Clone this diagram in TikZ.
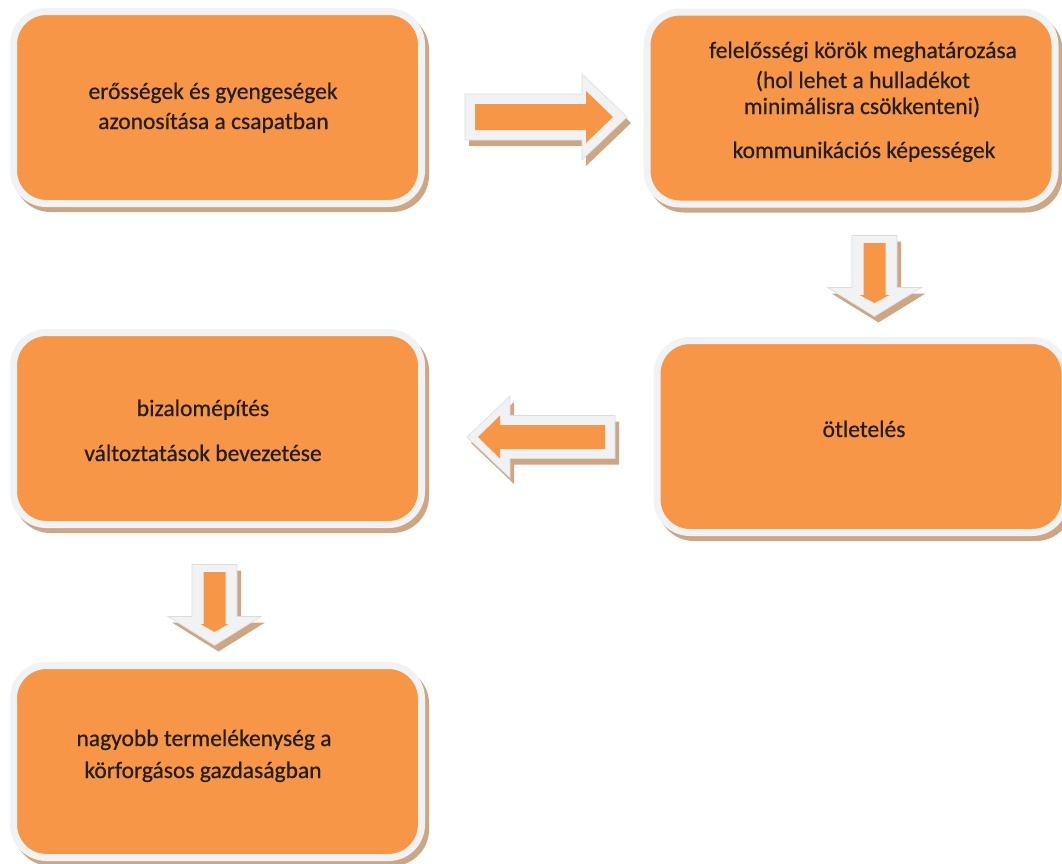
\documentclass[tikz,border=0pt]{standalone}
\usepackage{fontspec}
\setmainfont{Carlito}
\newfontfamily\boxfont{Carlito}[FakeBold=0.6]
\definecolor{boxorange}{HTML}{F79646}
\definecolor{rimgrey}{HTML}{F1F2F3}
\definecolor{rimedge}{HTML}{DADCDE}
\definecolor{shadowtan}{HTML}{CFA683}
\definecolor{txt}{HTML}{231E1A}
\tikzset{
  box/.style={rounded corners=33pt, fill=boxorange, draw=rimgrey, line width=7pt,
    minimum width=408pt, minimum height=192pt, inner sep=0pt, outer sep=0pt,
    preaction={draw=shadowtan, fill=shadowtan, line width=7pt,
      transform canvas={xshift=4pt, yshift=-5pt}}},
  lbl/.style={anchor=base, inner sep=0pt, text=txt, font=\boxfont\fontsize{23.5}{28}\selectfont},
  arrowrim/.style={fill=rimgrey, draw=rimedge, line width=0.6pt, transform shape},
  arrowshadow/.style={fill=shadowtan, transform shape},
  arrowcore/.style={fill=boxorange, transform shape},
  pics/blockarrow/.style n args={5}{code={
    \path[pic actions] (#1,-#4) -- (#2,-#4) -- (#2,-#5) -- (#3,0) -- (#2,#5) -- (#2,#4) -- (#1,#4) -- cycle;
  }},
}
\begin{document}
\begin{tikzpicture}[x=1pt, y=-1pt]
\useasboundingbox (0,0) rectangle (1062,863);
\fill[white] (0,0) rectangle (1062,863);

% boxes
\node[box] (b1) at (217.5,107.5) {};
\node[box] (b2) at (851,108) {};
\node[box] (b3) at (861,436.5) {};
\node[box] (b4) at (217.5,428.5) {};
\node[box] (b5) at (217.5,761.5) {};

% texts
\node[lbl] (t1a) at (213,99) {erősségek és gyengeségek};
\node[lbl] (t1b) at (213.5,129) {azonosítása a csapatban};
\node[lbl] (t2a) at (863,58) {felelősségi körök meghatározása};
\node[lbl] (t2b) at (863,88) {(hol lehet a hulladékot};
\node[lbl] (t2c) at (862,114) {minimálisra csökkenteni)};
\node[lbl] (t2d) at (864,158) {kommunikációs képességek};
\node[lbl] (t3a) at (864,437) {ötletelés};
\node[lbl] (t4a) at (203,416) {bizalomépítés};
\node[lbl] (t4b) at (203,461) {változtatások bevezetése};
\node[lbl] (t5a) at (204,746) {nagyobb termelékenység a};
\node[lbl] (t5b) at (203,778) {körforgásos gazdaságban};

% right arrow (b1 -> b2)
\begin{scope}[shift={(550,123)}]
  \pic[arrowshadow] (a1s) {blockarrow={-81}{36}{81}{23}{43}};
\end{scope}
\begin{scope}[shift={(546,117)}]
  \pic[arrowrim] (a1o) {blockarrow={-81}{36}{81}{23}{43}};
  \pic[arrowcore] (a1i) {blockarrow={-71}{40}{67}{13}{26}};
\end{scope}

% down arrow (b2 -> b3)
\begin{scope}[shift={(878.5,282)}, rotate=-90]
  \pic[arrowshadow] (a2s) {blockarrow={-40.5}{11.5}{40.5}{22.5}{47}};
\end{scope}
\begin{scope}[shift={(874.5,276)}, rotate=-90]
  \pic[arrowrim] (a2o) {blockarrow={-40.5}{11.5}{40.5}{22.5}{47}};
  \pic[arrowcore] (a2i) {blockarrow={-33}{19}{27}{11}{15}};
\end{scope}

% left arrow (b3 -> b4)
\begin{scope}[shift={(545,443)}, rotate=180]
  \pic[arrowshadow] (a3s) {blockarrow={-74}{31}{74}{21.5}{41}};
\end{scope}
\begin{scope}[shift={(541,437)}, rotate=180]
  \pic[arrowrim] (a3o) {blockarrow={-74}{31}{74}{21.5}{41}};
  \pic[arrowcore] (a3i) {blockarrow={-64}{41}{63}{12}{21.5}};
\end{scope}

% down arrow (b4 -> b5)
\begin{scope}[shift={(218.5,611)}, rotate=-90]
  \pic[arrowshadow] (a4s) {blockarrow={-40.5}{11.5}{40.5}{22.5}{46.5}};
\end{scope}
\begin{scope}[shift={(214.5,605)}, rotate=-90]
  \pic[arrowrim] (a4o) {blockarrow={-40.5}{11.5}{40.5}{22.5}{46.5}};
  \pic[arrowcore] (a4i) {blockarrow={-33}{19}{27}{11}{14}};
\end{scope}
\end{tikzpicture}
\end{document}
